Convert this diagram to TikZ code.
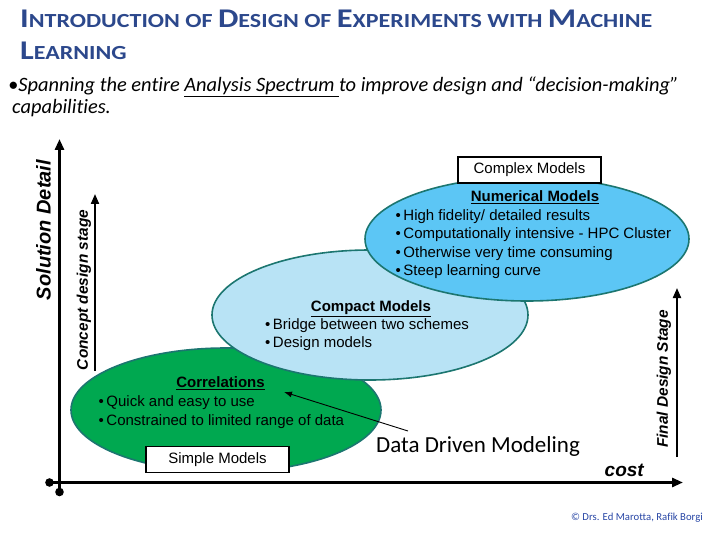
\documentclass[tikz,border=0pt]{standalone}
\usepackage{graphicx}
\usepackage{fontspec}
\setmainfont{Carlito}[Ligatures=NoCommon]
\newfontfamily\arialf{Liberation Sans}
\usetikzlibrary{shapes.geometric,arrows.meta}
\definecolor{titleblue}{RGB}{44,72,140}
\definecolor{corrgreen}{RGB}{0,168,80}
\definecolor{compactblue}{RGB}{184,227,245}
\definecolor{numblue}{RGB}{92,198,245}
\definecolor{rimteal}{RGB}{28,118,112}
\definecolor{creditblue}{RGB}{40,70,165}
% fake small caps: large initial, smaller remaining capitals, widened
\newcommand{\bigsc}[1]{{\fontsize{27}{29}\selectfont #1}}
\newcommand{\smallsc}[1]{{\fontsize{20}{22}\selectfont #1}}
\newcommand{\wide}[1]{\scalebox{1.2}[1]{#1}}
\begin{document}
\begin{tikzpicture}[x=1pt,y=-1pt,
  model/.style={ellipse,draw=rimteal,line width=1.6pt,inner sep=0pt},
  heading/.style={font=\arialf\fontsize{15}{17}\selectfont\bfseries,anchor=base},
  item/.style={font=\arialf\fontsize{15}{17}\selectfont,anchor=base west,inner sep=0pt},
  tag/.style={draw=black,fill=white,line width=1.2pt,minimum width=143pt,minimum height=26pt,
    inner sep=0pt,font=\arialf\fontsize{15}{17}\selectfont},
  axis/.style={line width=3pt,-{Triangle[length=11pt,width=9pt]}},
  stage/.style={line width=2pt,-{Triangle[length=10pt,width=8pt]}},
  axislabel/.style={font=\arialf\bfseries\itshape,inner sep=0pt}]
\useasboundingbox (0,0) rectangle (720,540);

% title and subtitle
\node[anchor=base west,inner sep=0pt,text=titleblue,font=\bfseries] (title1) at (20,27.5)
  {\wide{\bigsc{I}\smallsc{NTRODUCTION OF }\bigsc{D}\smallsc{ESIGN OF }\bigsc{E}\smallsc{XPERIMENTS WITH }\bigsc{M}\smallsc{ACHINE}}};
\node[anchor=base west,inner sep=0pt,text=titleblue,font=\bfseries] (title2) at (20,60)
  {\wide{\bigsc{L}\smallsc{EARNING}}};
\node[anchor=base west,inner sep=0pt,font=\itshape\fontsize{20.4}{24}\selectfont] (sub1) at (8,92)
  {•Spanning the entire \underline{Analysis Spectrum\ }to improve design and “decision-making”};
\node[anchor=base west,inner sep=0pt,font=\itshape\fontsize{20.4}{24}\selectfont] (sub2) at (12,114)
  {capabilities.};

% axes
\coordinate (yfoot) at (59.5,492);
\coordinate (ytop) at (59.5,139);
\coordinate (xfoot) at (49.5,482.5);
\coordinate (xend) at (683,482.5);
\draw[axis] (yfoot) -- (ytop);
\draw[axis] (xfoot) -- (xend);
\fill (yfoot) circle (4.3pt);
\fill (xfoot) circle (4.3pt);
\node[axislabel,rotate=90,font=\arialf\bfseries\itshape\fontsize{20}{22}\selectfont] (ylab) at (43.5,230) {Solution Detail};
\node[axislabel,anchor=base east,font=\arialf\bfseries\itshape\fontsize{19}{21}\selectfont] (xlab) at (644,476) {cost};

% design stage arrows
\coordinate (cs0) at (95,371);
\coordinate (cs1) at (95,194);
\draw[stage] (cs0) -- (cs1);
\node[axislabel,rotate=90,font=\arialf\bfseries\itshape\fontsize{15.4}{17}\selectfont] (cslab) at (84,290) {Concept design stage};
\coordinate (fs0) at (677,457);
\coordinate (fs1) at (677,288);
\draw[stage] (fs0) -- (fs1);
\node[axislabel,rotate=90,font=\arialf\bfseries\itshape\fontsize{15.4}{17}\selectfont] (fslab) at (664,379) {Final Design Stage};

% model families
\node[model,fill=corrgreen,minimum width=310pt,minimum height=124pt] (corr) at (226,410) {};
\node[model,fill=compactblue,minimum width=316pt,minimum height=130pt] (compact) at (370,315) {};
\node[model,fill=numblue,minimum width=324pt,minimum height=124pt] (numer) at (527,239) {};

% correlations
\node[heading] (corrh) at (220.5,387.5) {\underline{Correlations}};
\node[item] (corr1) at (98.5,406.5) {•\hspace{2.5pt}Quick and easy to use};
\node[item] (corr2) at (98.5,425) {•\hspace{2.5pt}Constrained to limited range of data};

% compact models
\node[heading] (comph) at (371,311.5) {\underline{Compact Models}};
\node[item] (comp1) at (265,329.5) {•\hspace{2.5pt}Bridge between two schemes};
\node[item] (comp2) at (265,347.5) {•\hspace{2.5pt}Design models};

% numerical models
\node[heading] (numh) at (535,201.5) {\underline{Numerical Models}};
\node[item] (num1) at (395.5,220.5) {•\hspace{2.5pt}High fidelity/ detailed results};
\node[item] (num2) at (395.5,239) {•\hspace{2.5pt}Computationally intensive - HPC Cluster};
\node[item] (num3) at (395.5,257) {•\hspace{2.5pt}Otherwise very time consuming};
\node[item] (num4) at (395.5,275) {•\hspace{2.5pt}Steep learning curve};

% scale tags
\node[tag] (complex) at (529.5,170) {Complex Models};
\node[tag] (simple) at (217.5,459.5) {Simple Models};

% data driven modeling callout
\node[anchor=base west,inner sep=0pt,font=\fontsize{23}{26}\selectfont] (ddm) at (376,452.5) {Data Driven Modeling};
\coordinate (ddmtail) at (408,431);
\coordinate (ddmtip) at (284,392);
\draw[line width=0.9pt,-{Latex[length=8pt,width=6pt]}] (ddmtail) -- (ddmtip);

% credit line
\node[anchor=base east,inner sep=0pt,text=creditblue,font=\fontsize{10.7}{12}\selectfont] (credit) at (703,520) {© Drs. Ed Marotta, Rafik Borgi};
\end{tikzpicture}
\end{document}
